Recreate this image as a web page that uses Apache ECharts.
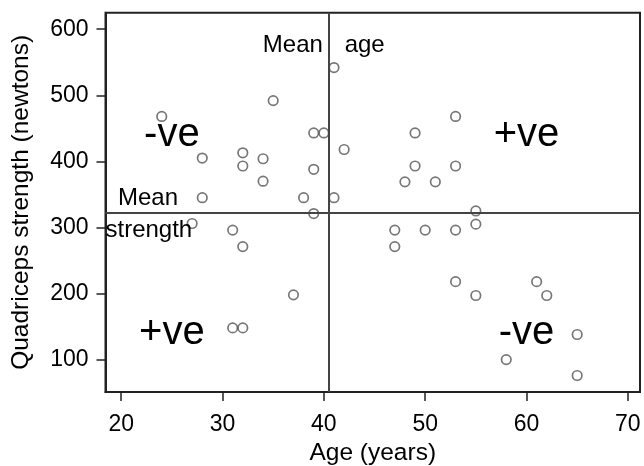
<!DOCTYPE html>
<html>
<head>
<meta charset="utf-8">
<script src="https://cdn.jsdelivr.net/npm/echarts@6/dist/echarts.min.js"></script>
<style>
html,body{margin:0;padding:0;background:#fff;}
#chart{width:644px;height:466px;}
</style>
</head>
<body>
<div id="chart"></div>
<script>
// Data
const ages = [24, 35, 39, 40, 42, 28, 32, 32, 34, 34, 39, 28, 38, 41, 39, 27, 31, 41, 53, 49, 49, 53, 48, 51, 55, 55, 47, 50, 53, 47, 53, 55, 61, 62, 65, 58, 65, 32, 37, 31, 32];
const strengths = [468, 492, 443, 443, 418, 405, 413, 393, 404, 370, 388, 345, 345, 345, 321, 306, 296, 542, 468, 443, 393, 393, 369, 369, 325, 305, 296, 296, 296, 271, 218, 197, 218, 197, 138, 100, 76, 271, 198, 148, 148];
const meanAge = 40.5;
const meanStrength = 322;
const xTicks = [20, 30, 40, 50, 60, 70];
const yTicks = [100, 200, 300, 400, 500, 600];
const annotTexts = ['-ve', '+ve', '+ve', '-ve', 'Mean', 'age', 'Mean', 'strength'];
const annotAges = [25, 60, 25, 60, 39.9, 42.05, 19.68, 18.45];
const annotStrengths = [440, 440, 141, 141, 576, 576, 344, 296];

const FONT = 'Liberation Sans';
const chart = echarts.init(document.getElementById('chart'), null, {renderer: 'canvas'});

const points = ages.map((a, i) => [a, strengths[i]]);

chart.setOption({
  animation: false,
  backgroundColor: '#fff',
  grid: {
    left: 105.5, right: 4, top: 12.7, bottom: 74,
    show: true, borderColor: '#222', borderWidth: 2,
    containLabel: false, outerBoundsMode: 'none'
  },
  xAxis: {
    type: 'value', min: 18.45, max: 71.2,
    name: 'Age (years)', nameLocation: 'middle', nameGap: 49,
    nameTextStyle: {fontFamily: FONT, fontSize: 24.5, color: '#000'},
    axisLine: {show: true, onZero: false, lineStyle: {color: '#222', width: 2}},
    axisTick: {show: true, length: 9, customValues: xTicks, lineStyle: {color: '#222', width: 1.5}},
    axisLabel: {customValues: xTicks, margin: 21, fontFamily: FONT, fontSize: 23, color: '#000'},
    splitLine: {show: false}
  },
  yAxis: {
    type: 'value', min: 51, max: 625,
    name: 'Quadriceps strength (newtons)', nameLocation: 'middle', nameGap: 72,
    nameTextStyle: {fontFamily: FONT, fontSize: 24.5, color: '#000'},
    axisLine: {show: true, onZero: false, lineStyle: {color: '#222', width: 2}},
    axisTick: {show: true, length: 9, customValues: yTicks, lineStyle: {color: '#222', width: 1.5}},
    axisLabel: {customValues: yTicks, margin: 17, fontFamily: FONT, fontSize: 23, color: '#000'},
    splitLine: {show: false}
  },
  series: [
    {
      type: 'scatter',
      data: points,
      symbol: 'circle',
      symbolSize: 9.5,
      itemStyle: {color: 'rgba(0,0,0,0)', borderColor: '#555', borderWidth: 1.7},
      markLine: {
        silent: true,
        symbol: ['none', 'none'],
        label: {show: false},
        lineStyle: {color: '#444', width: 2, type: 'solid'},
        data: [{xAxis: meanAge}, {yAxis: meanStrength}]
      },
      z: 3
    }
  ]
});

// Text annotations placed through the chart's own scales
const graphics = annotTexts.map((t, i) => {
  const big = i < 4;
  let align = 'left';
  if (big) align = 'center';
  else if (i === 4) align = 'right';
  const p = chart.convertToPixel({gridIndex: 0}, [annotAges[i], annotStrengths[i]]);
  return {
    type: 'text', x: p[0], y: p[1], z: 10, silent: true,
    style: {
      text: t, fill: '#000', font: (big ? 40 : 24) + 'px "' + FONT + '"',
      align: align, verticalAlign: 'middle'
    }
  };
});
chart.setOption({graphic: graphics});
</script>
</body>
</html>
